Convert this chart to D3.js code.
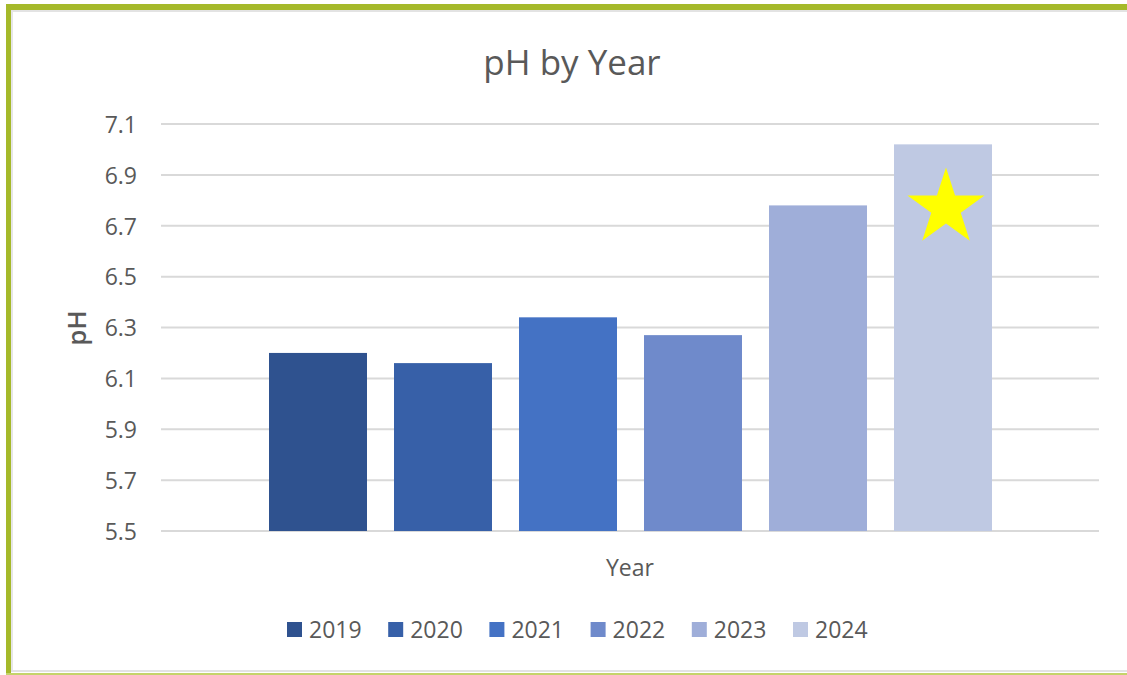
<!DOCTYPE html>
<html>
<head>
<meta charset="utf-8">
<script src="https://cdn.jsdelivr.net/npm/d3@7"></script>
<style>
html,body{margin:0;padding:0;background:#fff;}
svg{display:block;font-family:"Open Sans","Noto Sans",sans-serif;}
</style>
</head>
<body>
<svg id="chart" width="1127" height="675"></svg>
<script>
const years = ["2019","2020","2021","2022","2023","2024"];
const phValues = [6.20, 6.16, 6.34, 6.27, 6.78, 7.02];
const barColors = ["#2F528F","#3760A8","#4472C4","#6F8ACB","#9FAED9","#BFC9E3"];
const yTicks = [5.5, 5.7, 5.9, 6.1, 6.3, 6.5, 6.7, 6.9, 7.1];
const starValue = 6.77;
const starYear = "2024";

const svg = d3.select("#chart");

// frame
svg.append("rect").attr("x",0).attr("y",0).attr("width",1127).attr("height",675).attr("fill","#fff");
svg.append("line").attr("x1",11).attr("x2",1127).attr("y1",11).attr("y2",11).attr("stroke","#e3e3e3").attr("stroke-width",2);
svg.append("line").attr("x1",12).attr("x2",12).attr("y1",11).attr("y2",672).attr("stroke","#e6e6e6").attr("stroke-width",2);
svg.append("line").attr("x1",11).attr("x2",1127).attr("y1",671).attr("y2",671).attr("stroke","#e3e3e3").attr("stroke-width",2);
svg.append("rect").attr("x",6).attr("y",4).attr("width",1121).attr("height",6).attr("fill","#A5B92A");
svg.append("rect").attr("x",6).attr("y",4).attr("width",5).attr("height",671).attr("fill","#A5B92A");
svg.append("rect").attr("x",6).attr("y",673).attr("width",1121).attr("height",2).attr("fill","#C5D36A");

const y = d3.scaleLinear().domain([5.5, 7.1]).range([531, 124]);
const x = d3.scaleBand().domain(years).range([255.5, 1005.5]).paddingInner(0.216).paddingOuter(0.108);

// gridlines
svg.append("g").selectAll("line").data(yTicks).join("line")
  .attr("x1",161).attr("x2",1099)
  .attr("y1",d=>y(d)).attr("y2",d=>y(d))
  .attr("stroke","#d9d9d9").attr("stroke-width",2);

// y axis labels
const yAxis = d3.axisLeft(y).tickValues(yTicks).tickFormat(d3.format(".1f")).tickSize(0).tickPadding(0);
const yg = svg.append("g").attr("transform","translate(137,0)").call(yAxis);
yg.select(".domain").remove();
yg.selectAll("text").attr("fill","#595959").attr("dy","0.36em").style("font-size","23px").style("font-family","'Open Sans','Noto Sans',sans-serif");

// bars
svg.append("g").selectAll("rect").data(years).join("rect")
  .attr("x",d=>x(d)).attr("width",x.bandwidth())
  .attr("y",(d,i)=>y(phValues[i])).attr("height",(d,i)=>y(5.5)-y(phValues[i]))
  .attr("fill",(d,i)=>barColors[i]);

// star
const R = 40.5, r = R*0.382;
const starPts = d3.range(10).map(i=>{
  const a = -Math.PI/2 + i*Math.PI/5;
  const rad = i%2===0 ? R : r;
  return [rad*Math.cos(a), rad*Math.sin(a)];
});
svg.append("polygon")
  .attr("points", starPts.map(p=>p.join(",")).join(" "))
  .attr("transform",`translate(${x(starYear)+x.bandwidth()/2+3},${y(starValue)})`)
  .attr("fill","#FFFF00");

// title
svg.append("text").attr("x",572).attr("y",75).attr("text-anchor","middle")
  .attr("fill","#595959").style("font-size","35px").text("pH by Year");

// axis titles
svg.append("text").attr("x",630).attr("y",576).attr("text-anchor","middle")
  .attr("fill","#595959").style("font-size","23px").text("Year");
svg.append("text").attr("transform","translate(86,328) rotate(-90)").attr("text-anchor","middle")
  .attr("fill","#595959").style("font-size","26px").style("font-weight","600").text("pH");

// legend
const lg = svg.append("g").selectAll("g").data(years).join("g")
  .attr("transform",(d,i)=>`translate(${287+i*101.2},622)`);
lg.append("rect").attr("width",15).attr("height",15).attr("fill",(d,i)=>barColors[i]);
lg.append("text").attr("x",22).attr("y",16).attr("fill","#595959").style("font-size","23px").text(d=>d);
</script>
</body>
</html>
